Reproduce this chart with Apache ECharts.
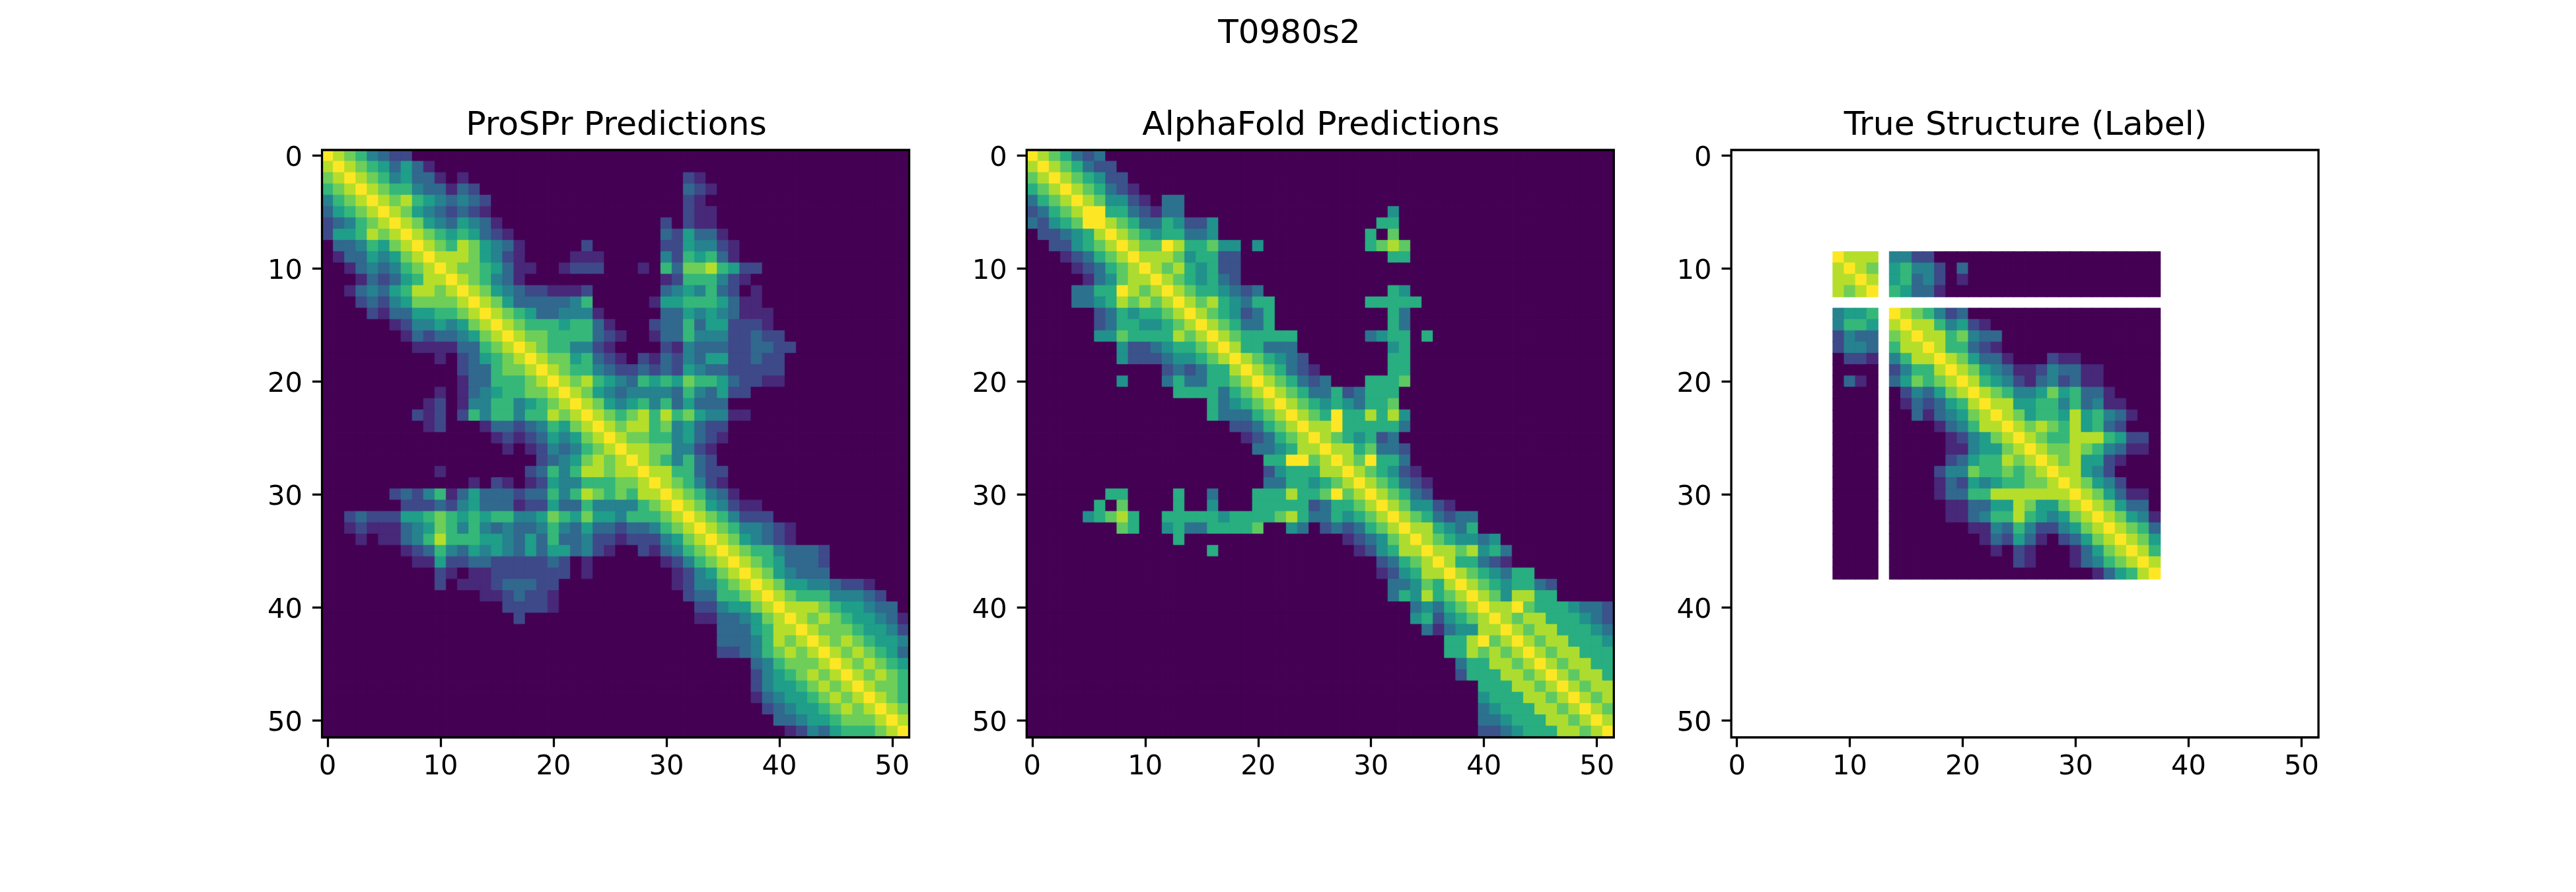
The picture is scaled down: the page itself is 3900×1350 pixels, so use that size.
<!DOCTYPE html>
<html>
<head>
<meta charset="utf-8">
<style>html,body{margin:0;padding:0;background:#fff}#c{width:3900px;height:1350px}</style>
<script src="https://cdn.jsdelivr.net/npm/echarts@6/dist/echarts.min.js"></script>
</head>
<body>
<div id="c"></div>
<script>
// Each matrix is symmetric. One string per row (row index = position in the list),
// holding the upper triangle as "startColumn:levels" runs; anything not listed is level 0.
const prosprRows = [
"0:98764322","1:987653531","2:98764533101 32:21","3:98766433132 32:321","4:98786543432 32:21",
"5:9875432321 32:211","6:9875435431 30:2 32:211","7:9876565321 30:325331","8:9876875431 23:2 30:2254421",
"9:988875421 22:111 30:4265631","10:987765311 21:1222 28:1 30:637786522","11:9876431 30:12666421",
"12:987543221112 30:345463201","13:98753333346 29:1556665311","14:98765334441 30:3354543111",
"15:98766656631 29:23363552221","16:98776666321 29:133644422322","17:987664421 30:214333223322",
"18:987756321 28:2132435522322","19:9876643223232543322222","20:987865436565766532211",
"21:98754344443643522","22:98754564635333","23:987678686754411","24:987886745322","25:98776645321",
"26:988774421","27:98764632","28:98866322","29:9876421","30:9876431","31:98754211","32:98764222",
"33:987644321","34:98754321","35:9876643332","36:987653332","37:98754333","38:98755443221",
"39:98766644432","40:98887655433","41:98787655431","42:9877765542","43:987876554","44:98787653",
"45:9878765","46:987876","47:98776","48:9876","49:987","50:98","51:9"
];
const alphafoldRows = [
"0:8765323","1:8765322","2:8765422","3:8765321","4:8764421033","5:885532133 32:4","6:87653354224 31:55",
"7:8765455334 30:506","8:8766875564404 30:5676","9:8777645522 32:55","10:876754522","11:87654532",
"12:876554323 32:54","13:876754355 30:55555","14:87654235 32:53","15:8765335 32:53","16:87655555 30:345505",
"17:8755333 32:45","18:8765432 32:55","19:8765321 32:55","20:8765323 30:5556","21:876533523555",
"22:87654543556","23:87658557574","24:8778555553","25:87654523","26:87756332","27:8768553","28:8765421",
"29:8765321","30:876532","31:8764421","32:87653233","33:8775435","34:87654434","35:87767453","36:8755321",
"37:87654355","38:876545532","39:87647755","40:877865554332","41:87677555432","42:8767755543","43:876775554",
"44:87677555","45:8767755","46:876775","47:87677","48:8767","49:876","50:87","51:8"
];
const labelRows = [
"","","","","","","","","","9:9888 14:4422","10:987 14:5644203","11:98 14:5634201","12:9 14:65331","",
"14:9876423","15:98864521","16:98867433","17:9866321","18:9875331 28:211","19:98754311243311",
"20:9865421342311","21:9876445756331","22:9885566463411","23:9875665856431","24:98787685632",
"25:987668886522","26:98778764311","27:98785521","28:988542","29:987542","30:9875311","31:987533",
"32:987541","33:98763","34:9875","35:986","36:98","37:9"
];
// Residues with no value in the true structure (blank rows and columns)
const labelResidues = [9,10,11,12,14,15,16,17,18,19,20,21,22,23,24,25,26,27,28,29,30,31,32,33,34,35,36,37];

const residues = Array.from({length: 52}, (_, i) => String(i));
const tickLabels = [0,10,20,30,40,50];
const panelTitles = ["ProSPr Predictions", "AlphaFold Predictions", "True Structure (Label)"];
const figureTitle = "T0980s2";
const viridis10 = ["#440154","#482878","#3e4989","#31688e","#26828e","#1f9e89","#35b779","#6ece58","#b5de2b","#fde725"];
const viridis9  = ["#440154","#472d7b","#3b528b","#2c728e","#21918c","#28ae80","#5ec962","#addc30","#fde725"];

function toCells(rows, colors, keep) {
  const m = residues.map(() => residues.map(() => 0));
  rows.forEach((row, r) => {
    row.split(" ").filter(Boolean).forEach(run => {
      const [start, digits] = run.split(":");
      [...digits].forEach((d, k) => {
        const c = +start + k;
        m[r][c] = +d; m[c][r] = +d;
      });
    });
  });
  const cells = [];
  m.forEach((row, r) => row.forEach((v, c) => {
    if (!keep || (keep.includes(r) && keep.includes(c))) {
      // a hairline border in the cell's own colour closes antialiasing seams between cells
      cells.push({value: [c, r, v], itemStyle: {borderColor: colors[v], borderWidth: 0.6}});
    }
  }));
  return cells;
}

const panels = [
  {cells: toCells(prosprRows, viridis10), colors: viridis10, left: 487.5},
  {cells: toCells(alphafoldRows, viridis9), colors: viridis9, left: 1554.3},
  {cells: toCells(labelRows, viridis10, labelResidues), colors: viridis10, left: 2621.1}
];
const SIZE = 889, TOP = 227;
const FONT = "'DejaVu Sans'";
const showTick = i => tickLabels.includes(+i);

function axis(extra, labelExtra) {
  return Object.assign({
    type: 'category', data: residues, boundaryGap: true, silent: true,
    axisLine: {show: false},
    axisTick: {show: true, alignWithLabel: true, length: 14.6, interval: showTick, lineStyle: {color: '#000', width: 3.3}},
    axisLabel: Object.assign({show: true, interval: showTick, color: '#000', fontFamily: FONT, fontSize: 41.67}, labelExtra),
    splitLine: {show: false}, splitArea: {show: false}
  }, extra);
}

const chart = echarts.init(document.getElementById('c'), null, {renderer: 'canvas'});
chart.setOption({
  animation: false,
  backgroundColor: '#fff',
  title: [
    {text: figureTitle, left: 1947, top: 22, textAlign: 'center', textStyle: {fontFamily: FONT, fontSize: 50, fontWeight: 'normal', color: '#000'}}
  ].concat(panels.map((p, i) => ({
    text: panelTitles[i], left: p.left + SIZE / 2 - 4, top: 160, textAlign: 'center',
    textStyle: {fontFamily: FONT, fontSize: 50.5, fontWeight: 'normal', color: '#000'}
  }))),
  grid: panels.map(p => ({
    left: p.left, top: TOP, width: SIZE, height: SIZE, show: true, z: 10,
    backgroundColor: 'transparent', borderColor: '#000', borderWidth: 3.3, containLabel: false
  })),
  xAxis: panels.map((p, i) => axis({gridIndex: i, position: 'bottom'}, {margin: 24.6})),
  yAxis: panels.map((p, i) => axis({gridIndex: i, position: 'left', inverse: true}, {margin: 29.6, verticalAlign: 'top', lineHeight: 10})),
  visualMap: panels.map((p, i) => ({
    show: false, type: 'continuous', seriesIndex: i, dimension: 2,
    min: 0, max: p.colors.length - 1, inRange: {color: p.colors}
  })),
  series: panels.map((p, i) => ({
    type: 'heatmap', xAxisIndex: i, yAxisIndex: i, data: p.cells,
    progressive: 0, silent: true, label: {show: false}
  }))
});
</script>
</body>
</html>
